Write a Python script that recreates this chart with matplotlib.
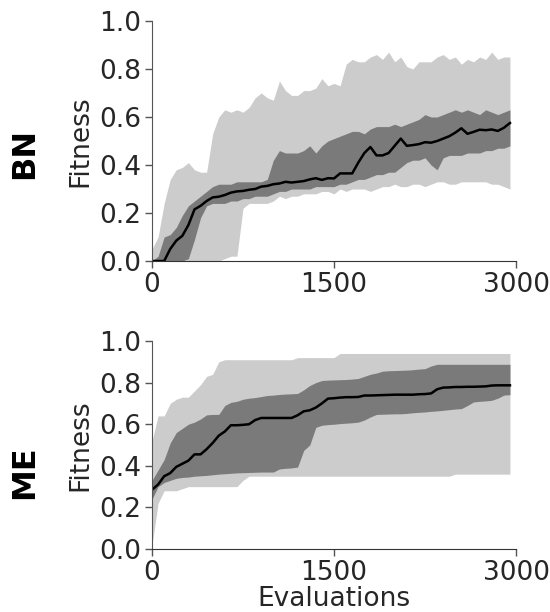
import matplotlib
matplotlib.use('Agg')
import matplotlib.pyplot as plt
import numpy as np

evals = np.arange(0, 3000, 50)

# BN panel
bn_median = [0, 0, 0, 0.05, 0.085, 0.105, 0.15, 0.215, 0.23, 0.25,
             0.265, 0.268, 0.275, 0.285, 0.29, 0.292, 0.297, 0.30, 0.31, 0.313,
             0.32, 0.323, 0.33, 0.327, 0.33, 0.333, 0.34, 0.345, 0.338, 0.345,
             0.344, 0.365, 0.365, 0.365, 0.41, 0.45, 0.475, 0.44, 0.44, 0.45,
             0.48, 0.51, 0.48, 0.483, 0.487, 0.495, 0.493, 0.50, 0.51, 0.52,
             0.535, 0.553, 0.53, 0.538, 0.547, 0.545, 0.548, 0.542, 0.555, 0.575]
bn_q1 = [0, 0, 0, 0, 0, 0, 0.01, 0.09, 0.18, 0.23,
         0.24, 0.24, 0.24, 0.25, 0.25, 0.26, 0.26, 0.27, 0.27, 0.27,
         0.28, 0.29, 0.29, 0.30, 0.30, 0.30, 0.30, 0.31, 0.31, 0.31,
         0.31, 0.32, 0.32, 0.33, 0.34, 0.34, 0.35, 0.36, 0.36, 0.37,
         0.37, 0.39, 0.41, 0.42, 0.42, 0.43, 0.40, 0.38, 0.43, 0.44,
         0.44, 0.44, 0.45, 0.45, 0.45, 0.46, 0.46, 0.47, 0.47, 0.48]
bn_q3 = [0, 0.02, 0.10, 0.11, 0.14, 0.19, 0.23, 0.25, 0.27, 0.29,
         0.31, 0.32, 0.32, 0.32, 0.33, 0.33, 0.33, 0.33, 0.33, 0.34,
         0.42, 0.46, 0.45, 0.45, 0.45, 0.46, 0.48, 0.45, 0.48, 0.50,
         0.51, 0.52, 0.53, 0.54, 0.54, 0.53, 0.55, 0.56, 0.56, 0.56,
         0.57, 0.56, 0.57, 0.58, 0.59, 0.61, 0.60, 0.60, 0.61, 0.62,
         0.63, 0.62, 0.63, 0.62, 0.61, 0.63, 0.62, 0.61, 0.62, 0.63]
bn_min = [0, 0, 0, 0, 0, 0, 0, 0, 0, 0,
          0, 0, 0.01, 0.02, 0.02, 0.22, 0.24, 0.24, 0.24, 0.24,
          0.25, 0.27, 0.26, 0.27, 0.27, 0.28, 0.28, 0.28, 0.29, 0.29,
          0.28, 0.30, 0.29, 0.30, 0.30, 0.30, 0.29, 0.30, 0.31, 0.31,
          0.32, 0.31, 0.31, 0.32, 0.32, 0.31, 0.32, 0.33, 0.33, 0.32,
          0.32, 0.33, 0.33, 0.33, 0.33, 0.33, 0.32, 0.32, 0.31, 0.30]
bn_max = [0.05, 0.10, 0.24, 0.34, 0.38, 0.39, 0.41, 0.38, 0.37, 0.37,
          0.53, 0.60, 0.63, 0.62, 0.63, 0.62, 0.64, 0.68, 0.70, 0.68,
          0.67, 0.75, 0.71, 0.69, 0.69, 0.71, 0.71, 0.72, 0.76, 0.73,
          0.74, 0.73, 0.82, 0.84, 0.83, 0.83, 0.85, 0.86, 0.84, 0.87,
          0.83, 0.85, 0.81, 0.80, 0.83, 0.83, 0.83, 0.85, 0.86, 0.84,
          0.85, 0.82, 0.84, 0.83, 0.85, 0.84, 0.87, 0.84, 0.85, 0.85]

# ME panel
me_median = [0.285, 0.31, 0.35, 0.365, 0.395, 0.41, 0.425, 0.455, 0.455, 0.48,
             0.51, 0.545, 0.565, 0.595, 0.595, 0.597, 0.60, 0.62, 0.63, 0.63,
             0.63, 0.63, 0.63, 0.63, 0.643, 0.662, 0.667, 0.68, 0.70, 0.723,
             0.725, 0.728, 0.73, 0.73, 0.731, 0.738, 0.738, 0.739, 0.74, 0.741,
             0.742, 0.742, 0.742, 0.742, 0.744, 0.745, 0.748, 0.768, 0.776, 0.777,
             0.779, 0.779, 0.78, 0.78, 0.781, 0.782, 0.786, 0.787, 0.787, 0.787]
me_q1 = [0.24, 0.30, 0.32, 0.33, 0.34, 0.344, 0.346, 0.35, 0.352, 0.354,
         0.357, 0.36, 0.362, 0.364, 0.366, 0.367, 0.368, 0.369, 0.37, 0.37,
         0.37, 0.385, 0.388, 0.39, 0.394, 0.474, 0.50, 0.585, 0.595, 0.598,
         0.60, 0.603, 0.605, 0.607, 0.61, 0.62, 0.635, 0.647, 0.648, 0.649,
         0.65, 0.65, 0.652, 0.655, 0.657, 0.659, 0.662, 0.664, 0.667, 0.67,
         0.673, 0.675, 0.69, 0.707, 0.71, 0.712, 0.715, 0.725, 0.74, 0.742]
me_q3 = [0.33, 0.38, 0.43, 0.51, 0.56, 0.58, 0.60, 0.61, 0.625, 0.645,
         0.647, 0.647, 0.69, 0.705, 0.71, 0.72, 0.725, 0.728, 0.733, 0.738,
         0.74, 0.743, 0.745, 0.746, 0.748, 0.765, 0.786, 0.80, 0.81, 0.812,
         0.813, 0.814, 0.815, 0.817, 0.82, 0.83, 0.84, 0.846, 0.855, 0.857,
         0.858, 0.859, 0.86, 0.862, 0.865, 0.867, 0.88, 0.888, 0.888, 0.888,
         0.888, 0.888, 0.888, 0.888, 0.888, 0.888, 0.888, 0.888, 0.888, 0.888]
me_min = [0.02, 0.22, 0.28, 0.28, 0.28, 0.29, 0.30, 0.30, 0.30, 0.30,
          0.30, 0.30, 0.30, 0.30, 0.30, 0.33, 0.35, 0.35, 0.35, 0.35,
          0.35, 0.35, 0.35, 0.35, 0.35, 0.35, 0.35, 0.35, 0.35, 0.35,
          0.35, 0.35, 0.35, 0.35, 0.35, 0.35, 0.35, 0.35, 0.35, 0.35,
          0.35, 0.35, 0.35, 0.35, 0.35, 0.35, 0.35, 0.35, 0.35, 0.35,
          0.36, 0.36, 0.36, 0.36, 0.36, 0.36, 0.36, 0.36, 0.36, 0.36]
me_max = [0.52, 0.64, 0.64, 0.70, 0.72, 0.73, 0.73, 0.76, 0.79, 0.83,
          0.84, 0.90, 0.91, 0.91, 0.91, 0.91, 0.91, 0.91, 0.91, 0.91,
          0.91, 0.91, 0.91, 0.91, 0.92, 0.92, 0.92, 0.92, 0.92, 0.92,
          0.92, 0.94, 0.94, 0.94, 0.94, 0.94, 0.94, 0.94, 0.94, 0.94,
          0.94, 0.94, 0.94, 0.94, 0.94, 0.94, 0.94, 0.94, 0.94, 0.94,
          0.94, 0.94, 0.94, 0.94, 0.94, 0.94, 0.94, 0.94, 0.94, 0.94]

panels = [
    ('BN', bn_median, bn_q1, bn_q3, bn_min, bn_max),
    ('ME', me_median, me_q1, me_q3, me_min, me_max),
]

plt.rcParams['font.family'] = 'DejaVu Sans'
plt.rcParams['font.size'] = 19
plt.rcParams['text.color'] = '#262626'
plt.rcParams['axes.labelcolor'] = '#262626'
plt.rcParams['xtick.color'] = '#262626'
plt.rcParams['ytick.color'] = '#262626'

fig = plt.figure(figsize=(5.5, 6.12), dpi=100)
ax_rects = [[0.2764, 0.5735, 0.6618, 0.3922],
            [0.2764, 0.1029, 0.6618, 0.3399]]
label_y = [0.75, 0.229]

for i, (name, med, q1, q3, lo, hi) in enumerate(panels):
    ax = fig.add_axes(ax_rects[i])
    ax.fill_between(evals, lo, hi, color='#cccccc', linewidth=0)
    ax.fill_between(evals, q1, q3, color='#7a7a7a', linewidth=0)
    ax.plot(evals, med, color='black', linewidth=1.8)
    ax.set_xlim(0, 3000)
    ax.set_ylim(0, 1)
    ax.set_xticks([0, 1500, 3000])
    ax.set_yticks([0, 0.2, 0.4, 0.6, 0.8, 1.0])
    ax.set_yticklabels(['0.0', '0.2', '0.4', '0.6', '0.8', '1.0'])
    ax.set_ylabel('Fitness', labelpad=4)
    ax.spines['top'].set_visible(False)
    ax.spines['right'].set_visible(False)
    ax.spines['left'].set_color('#555555')
    ax.spines['bottom'].set_color('#333333')
    ax.tick_params(length=5, width=1, color='#555555', pad=3)
    if i == 1:
        ax.set_xlabel('Evaluations', labelpad=0)
    fig.text(0.044, label_y[i], name, rotation=90, fontsize=23, fontweight='bold',
             color='black', ha='center', va='center')

fig.savefig('out.png', dpi=100)
